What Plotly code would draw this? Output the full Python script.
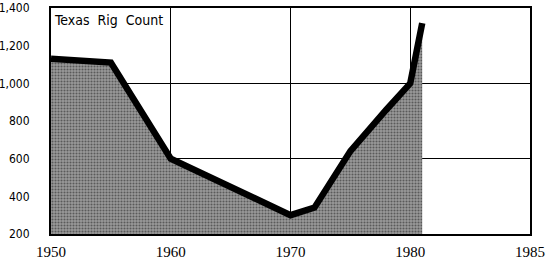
import plotly.graph_objects as go

years = [1950, 1955, 1960, 1970, 1972, 1975, 1978, 1980, 1981]
rigs = [1130, 1110, 600, 300, 340, 640, 860, 1000, 1320]

x_tickvals = [1950, 1960, 1970, 1980, 1990]
x_ticktext = ["1950", "1960", "1970", "1980", "1985"]
y_tickvals = [200, 400, 600, 800, 1000, 1200, 1400]
y_ticktext = ["200", "400", "600", "800", "1,000", "1,200", "1,400"]
y_gridvals = [600, 1000]
title_text = "Texas  Rig  Count"

fig = go.Figure()
fig.add_trace(go.Scatter(
    x=years, y=rigs, mode="none", fill="tozeroy",
    fillcolor="#7a7a7a",
    fillpattern=dict(shape=".", fgcolor="#1a1a1a", bgcolor="#9a9a9a", size=3, solidity=0.4),
    hoverinfo="skip", showlegend=False,
))
fig.add_trace(go.Scatter(
    x=years, y=rigs, mode="lines",
    line=dict(color="black", width=6.5), showlegend=False,
))
fig.add_trace(go.Scatter(x=[1950], y=[200], yaxis="y2", mode="none",
                         showlegend=False, hoverinfo="skip"))

fig.update_layout(
    width=552, height=260,
    margin=dict(l=51, r=22, t=8, b=26),
    paper_bgcolor="white", plot_bgcolor="white",
    font=dict(family="Liberation Sans", color="black", size=13),
    xaxis=dict(
        range=[1950, 1990], tickvals=x_tickvals, ticktext=x_ticktext,
        showgrid=True, gridcolor="black", gridwidth=1,
        showline=True, linecolor="black", linewidth=2, mirror=True,
        ticks="", ticklabelstandoff=3, zeroline=False, automargin=False,
        ticklabeloverflow="allow",
        tickfont=dict(family="Liberation Serif", size=15),
    ),
    yaxis=dict(
        range=[200, 1400], tickvals=y_tickvals, ticktext=y_ticktext,
        showgrid=False, showline=True, linecolor="black", linewidth=2,
        mirror=True, ticks="", ticklabelstandoff=17, zeroline=False,
        automargin=False, ticklabeloverflow="allow",
        tickfont=dict(family="DejaVu Sans Condensed", size=12),
    ),
    yaxis2=dict(
        range=[200, 1400], overlaying="y", tickvals=y_gridvals,
        showgrid=True, gridcolor="black", gridwidth=1, automargin=False,
        showticklabels=False, ticks="", zeroline=False,
    ),
    annotations=[dict(
        text=title_text, xref="paper", yref="paper", x=0, y=1,
        xanchor="left", yanchor="top", xshift=1, yshift=-2,
        showarrow=False, font=dict(family="DejaVu Sans Condensed", size=14),
    )],
)

fig.write_html(
    "out.html",
    config={"displayModeBar": False},
    post_script="document.body.style.margin='0';document.body.style.overflow='hidden';",
)
